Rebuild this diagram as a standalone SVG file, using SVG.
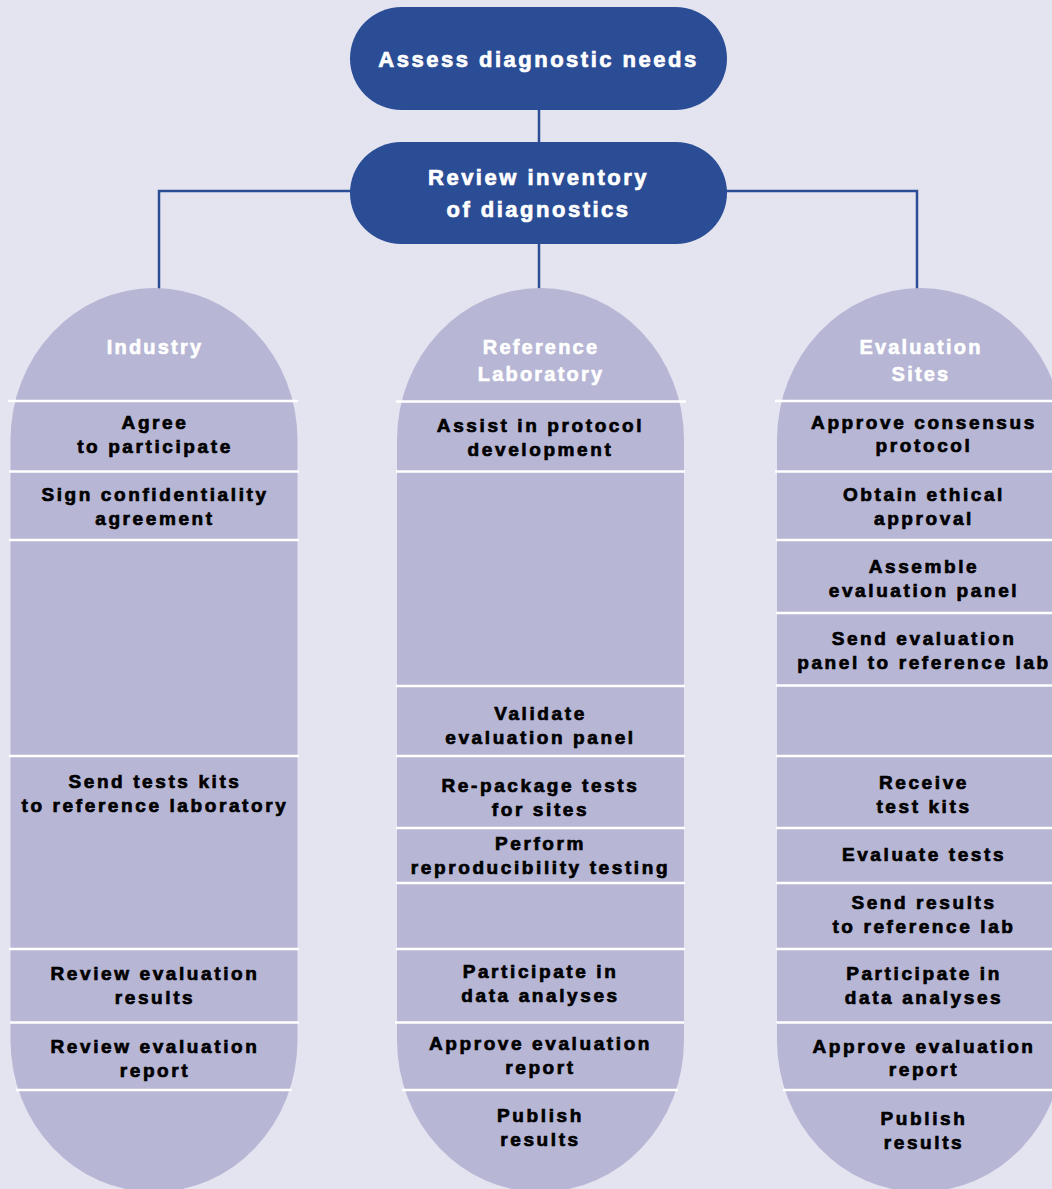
<svg xmlns="http://www.w3.org/2000/svg" width="1052" height="1189" viewBox="0 0 1052 1189">
<style>
.bg{fill:#e4e3f0}
.node{fill:#2a4d96}
.col{fill:#b7b6d5}
.conn{stroke:#2a4d96;stroke-width:2.5;fill:none}
.sep{stroke:#ffffff;stroke-width:2.5}
.n{font-family:"Liberation Sans",Arial,sans-serif;font-weight:bold;font-size:22px;letter-spacing:2.5px;fill:#ffffff;stroke:#ffffff;stroke-width:0.7px;text-anchor:middle}
.h{font-family:"Liberation Sans",Arial,sans-serif;font-weight:bold;font-size:20px;letter-spacing:2.2px;fill:#ffffff;stroke:#ffffff;stroke-width:0.6px;text-anchor:middle}
.t{font-family:"Liberation Sans",Arial,sans-serif;font-weight:bold;font-size:19px;letter-spacing:2.6px;fill:#000000;stroke:#000000;stroke-width:0.7px;text-anchor:middle}
</style>
<rect class="bg" x="0" y="0" width="1052" height="1189"/>
<g id="connectors">
<line class="conn" x1="539" y1="109" x2="539" y2="143"/>
<polyline class="conn" points="351,191 159,191 159,289"/>
<polyline class="conn" points="726,191 917,191 917,289"/>
<line class="conn" x1="539" y1="243" x2="539" y2="289"/>
</g>
<g id="node-assess">
<rect class="node" x="350" y="7" width="377" height="103" rx="51.5" ry="51.5"/>
<text class="n" x="538.5" y="67">Assess diagnostic needs</text>
</g>
<g id="node-review">
<rect class="node" x="350" y="142" width="377" height="102" rx="51" ry="51"/>
<text class="n" x="538.5" y="184.5">Review inventory</text>
<text class="n" x="538.5" y="216.5">of diagnostics</text>
</g>
<g id="col-industry">
<rect class="col" x="10.5" y="288" width="287" height="904" rx="143.5" ry="152"/>
<line class="sep" x1="8" y1="401" x2="298" y2="401"/>
<line class="sep" x1="9" y1="471.5" x2="299" y2="471.5"/>
<line class="sep" x1="9" y1="540" x2="299" y2="540"/>
<line class="sep" x1="9" y1="756" x2="299" y2="756"/>
<line class="sep" x1="9" y1="949" x2="299" y2="949"/>
<line class="sep" x1="10" y1="1022.5" x2="299" y2="1022.5"/>
<line class="sep" x1="16" y1="1090" x2="292" y2="1090"/>
<text class="h" x="155" y="354">Industry</text>
<text class="t" x="155" y="428.5">Agree</text>
<text class="t" x="155" y="452.5">to participate</text>
<text class="t" x="155" y="500.5">Sign confidentiality</text>
<text class="t" x="155" y="524.5">agreement</text>
<text class="t" x="155" y="787.5">Send tests kits</text>
<text class="t" x="155" y="811.5">to reference laboratory</text>
<text class="t" x="155" y="979.5">Review evaluation</text>
<text class="t" x="155" y="1003.5">results</text>
<text class="t" x="155" y="1052.5">Review evaluation</text>
<text class="t" x="155" y="1076.5">report</text>
</g>
<g id="col-reference">
<rect class="col" x="397" y="288" width="287" height="904" rx="143.5" ry="152"/>
<line class="sep" x1="396" y1="401.5" x2="686" y2="401.5"/>
<line class="sep" x1="396" y1="471.5" x2="685" y2="471.5"/>
<line class="sep" x1="396" y1="686" x2="685" y2="686"/>
<line class="sep" x1="396" y1="756" x2="685" y2="756"/>
<line class="sep" x1="396" y1="828" x2="685" y2="828"/>
<line class="sep" x1="396" y1="883" x2="685" y2="883"/>
<line class="sep" x1="396" y1="949" x2="685" y2="949"/>
<line class="sep" x1="395" y1="1022.5" x2="684" y2="1022.5"/>
<line class="sep" x1="402" y1="1090" x2="678" y2="1090"/>
<text class="h" x="541" y="354">Reference</text>
<text class="h" x="541" y="381">Laboratory</text>
<text class="t" x="540.5" y="431.5">Assist in protocol</text>
<text class="t" x="540.5" y="455.5">development</text>
<text class="t" x="540.5" y="719.5">Validate</text>
<text class="t" x="540.5" y="743.5">evaluation panel</text>
<text class="t" x="540.5" y="791.5">Re-package tests</text>
<text class="t" x="540.5" y="815.5">for sites</text>
<text class="t" x="540.5" y="849.5">Perform</text>
<text class="t" x="540.5" y="873.5">reproducibility testing</text>
<text class="t" x="540.5" y="977.5">Participate in</text>
<text class="t" x="540.5" y="1001.5">data analyses</text>
<text class="t" x="540.5" y="1050">Approve evaluation</text>
<text class="t" x="540.5" y="1073.5">report</text>
<text class="t" x="540.5" y="1121.5">Publish</text>
<text class="t" x="540.5" y="1145.5">results</text>
</g>
<g id="col-evaluation">
<rect class="col" x="777" y="288" width="287" height="904" rx="143.5" ry="152"/>
<line class="sep" x1="775" y1="401" x2="1052" y2="401"/>
<line class="sep" x1="775" y1="471.5" x2="1052" y2="471.5"/>
<line class="sep" x1="776" y1="540" x2="1052" y2="540"/>
<line class="sep" x1="776" y1="613" x2="1052" y2="613"/>
<line class="sep" x1="776" y1="685.5" x2="1052" y2="685.5"/>
<line class="sep" x1="776" y1="756" x2="1052" y2="756"/>
<line class="sep" x1="776" y1="828" x2="1052" y2="828"/>
<line class="sep" x1="776" y1="883" x2="1052" y2="883"/>
<line class="sep" x1="776" y1="949" x2="1052" y2="949"/>
<line class="sep" x1="776.5" y1="1022.5" x2="1052" y2="1022.5"/>
<line class="sep" x1="783" y1="1090" x2="1052" y2="1090"/>
<text class="h" x="921" y="353.5">Evaluation</text>
<text class="h" x="921" y="381">Sites</text>
<text class="t" x="924" y="428.5">Approve consensus</text>
<text class="t" x="924" y="452">protocol</text>
<text class="t" x="924" y="500.5">Obtain ethical</text>
<text class="t" x="924" y="524.5">approval</text>
<text class="t" x="924" y="572.5">Assemble</text>
<text class="t" x="924" y="596.5">evaluation panel</text>
<text class="t" x="924" y="644.5">Send evaluation</text>
<text class="t" x="924" y="668.5">panel to reference lab</text>
<text class="t" x="924" y="788.5">Receive</text>
<text class="t" x="924" y="812.5">test kits</text>
<text class="t" x="924" y="860.5">Evaluate tests</text>
<text class="t" x="924" y="908.5">Send results</text>
<text class="t" x="924" y="932.5">to reference lab</text>
<text class="t" x="924" y="979.5">Participate in</text>
<text class="t" x="924" y="1003.5">data analyses</text>
<text class="t" x="924" y="1052.5">Approve evaluation</text>
<text class="t" x="924" y="1076">report</text>
<text class="t" x="924" y="1125">Publish</text>
<text class="t" x="924" y="1148.5">results</text>
</g>
</svg>
